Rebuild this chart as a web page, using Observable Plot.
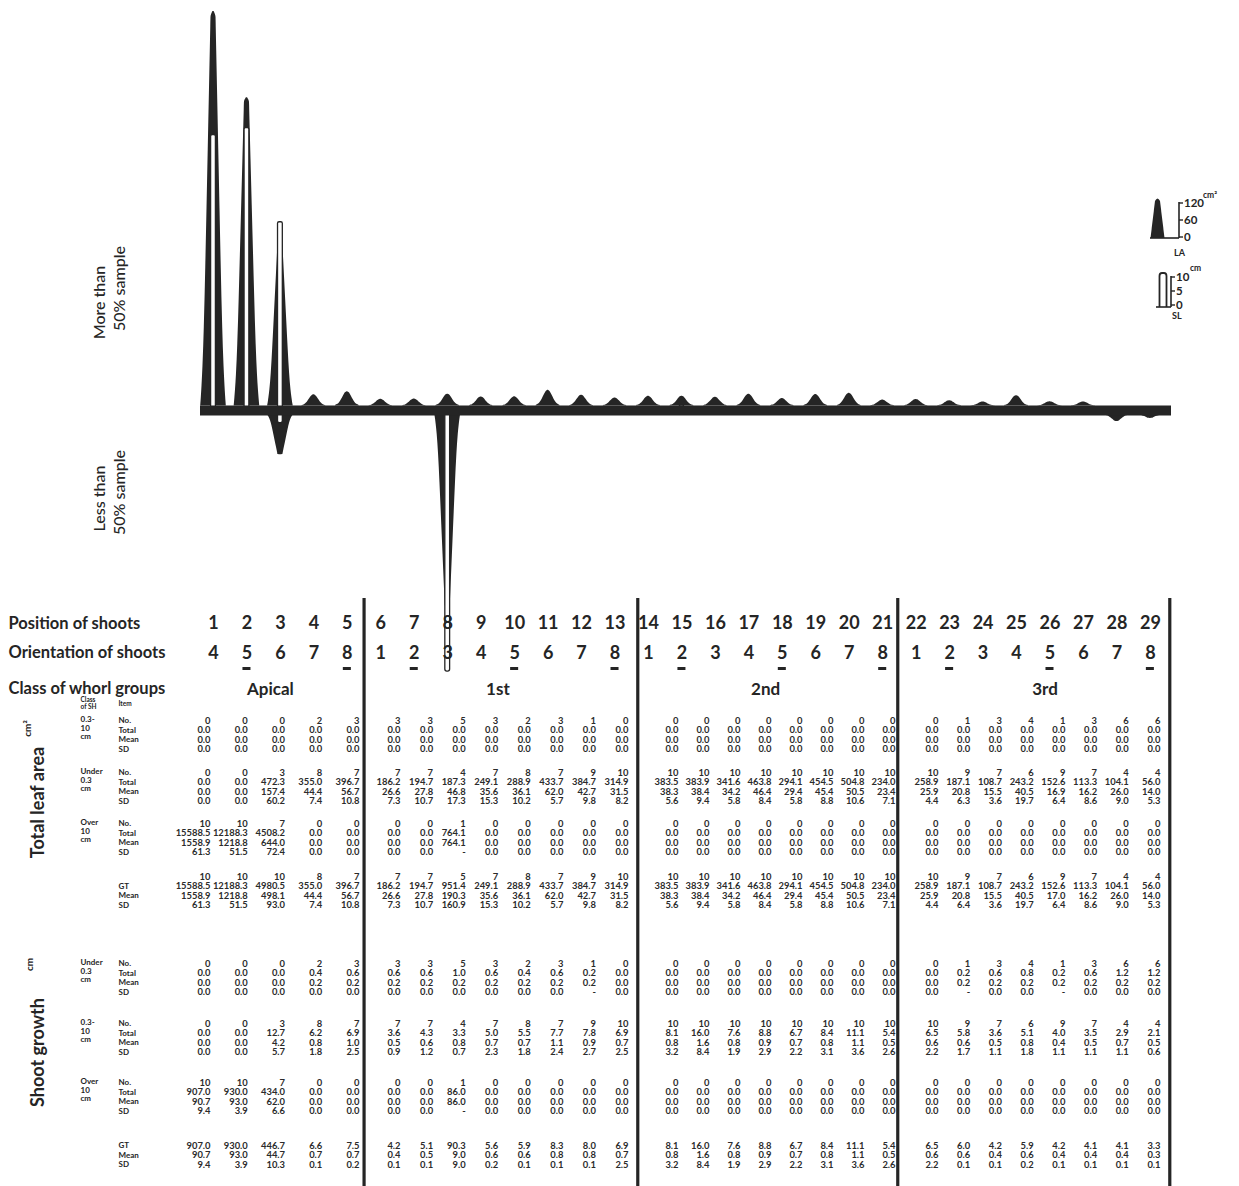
<!DOCTYPE html>
<html><head><meta charset="utf-8">
<script src="https://cdn.jsdelivr.net/npm/d3@7"></script>
<script src="https://cdn.jsdelivr.net/npm/@observablehq/plot@0.6"></script>
<style>
html,body{margin:0;padding:0;background:#fff;}
#wrap{position:relative;width:1239px;height:1186px;overflow:hidden;background:#fff;}
#wrap > svg{position:absolute;left:0;top:0;background:transparent;}
</style></head><body><div id="wrap"></div>
<script>
// ---------------- DATA ----------------
const positions   = [1,2,3,4,5,6,7,8,9,10,11,12,13,14,15,16,17,18,19,20,21,22,23,24,25,26,27,28,29];
const orientation = [4,5,6,7,8, 1,2,3,4,5,6,7,8, 1,2,3,4,5,6,7,8, 1,2,3,4,5,6,7,8];
const underlined  = [2,5,7,10,13,15,18,21,23,26,29];
const groupNames  = ["Apical","1st","2nd","3rd"];
const groupFirst  = [1,6,14,22];
const groupLast   = [5,13,21,29];

// spike chart: more than 50% sample (upward) and less than 50% sample (downward)
const upPos  = [1,2,3,4,5,6,7,8,9,10,11,12,13,14,15,16,17,18,19,20,21,22,23,24,25,26,27];
const upLA   = [1558.9,1218.8,644.0,44.4,56.7,26.6,27.8,46.8,35.6,36.1,62.0,42.7,31.5,38.3,38.4,34.2,46.4,29.4,45.4,50.5,23.4,25.9,20.8,15.5,40.5,16.9,16.2];
const upSL   = [90.7,93.0,62.0,0.8,1.0,0.5,0.6,0.8,0.7,0.7,1.1,0.9,0.7,0.8,1.6,0.8,0.9,0.7,0.8,1.1,0.5,0.6,0.6,0.5,0.8,0.4,0.5];
const downPos = [3,8,28,29];
const downLA  = [157.4,764.1,26.0,14.0];
const downSL  = [4.2,86.0,0.7,0.5];

// Total leaf area table
const la03_no    = [0,0,0,2,3, 3,3,5,3,2,3,1,0, 0,0,0,0,0,0,0,0, 0,1,3,4,1,3,6,6];
const la03_total = [0,0,0,0,0, 0,0,0,0,0,0,0,0, 0,0,0,0,0,0,0,0, 0,0,0,0,0,0,0,0];
const la03_mean  = [0,0,0,0,0, 0,0,0,0,0,0,0,0, 0,0,0,0,0,0,0,0, 0,0,0,0,0,0,0,0];
const la03_sd    = [0,0,0,0,0, 0,0,0,0,0,0,0,0, 0,0,0,0,0,0,0,0, 0,0,0,0,0,0,0,0];
const laU_no    = [0,0,3,8,7, 7,7,4,7,8,7,9,10, 10,10,10,10,10,10,10,10, 10,9,7,6,9,7,4,4];
const laU_total = [0,0,472.3,355.0,396.7, 186.2,194.7,187.3,249.1,288.9,433.7,384.7,314.9, 383.5,383.9,341.6,463.8,294.1,454.5,504.8,234.0, 258.9,187.1,108.7,243.2,152.6,113.3,104.1,56.0];
const laU_mean  = [0,0,157.4,44.4,56.7, 26.6,27.8,46.8,35.6,36.1,62.0,42.7,31.5, 38.3,38.4,34.2,46.4,29.4,45.4,50.5,23.4, 25.9,20.8,15.5,40.5,16.9,16.2,26.0,14.0];
const laU_sd    = [0,0,60.2,7.4,10.8, 7.3,10.7,17.3,15.3,10.2,5.7,9.8,8.2, 5.6,9.4,5.8,8.4,5.8,8.8,10.6,7.1, 4.4,6.3,3.6,19.7,6.4,8.6,9.0,5.3];
const laO_no    = [10,10,7,0,0, 0,0,1,0,0,0,0,0, 0,0,0,0,0,0,0,0, 0,0,0,0,0,0,0,0];
const laO_total = [15588.5,12188.3,4508.2,0,0, 0,0,764.1,0,0,0,0,0, 0,0,0,0,0,0,0,0, 0,0,0,0,0,0,0,0];
const laO_mean  = [1558.9,1218.8,644.0,0,0, 0,0,764.1,0,0,0,0,0, 0,0,0,0,0,0,0,0, 0,0,0,0,0,0,0,0];
const laO_sd    = [61.3,51.5,72.4,0,0, 0,0,null,0,0,0,0,0, 0,0,0,0,0,0,0,0, 0,0,0,0,0,0,0,0];
const laGT_no    = [10,10,10,8,7, 7,7,5,7,8,7,9,10, 10,10,10,10,10,10,10,10, 10,9,7,6,9,7,4,4];
const laGT_total = [15588.5,12188.3,4980.5,355.0,396.7, 186.2,194.7,951.4,249.1,288.9,433.7,384.7,314.9, 383.5,383.9,341.6,463.8,294.1,454.5,504.8,234.0, 258.9,187.1,108.7,243.2,152.6,113.3,104.1,56.0];
const laGT_mean  = [1558.9,1218.8,498.1,44.4,56.7, 26.6,27.8,190.3,35.6,36.1,62.0,42.7,31.5, 38.3,38.4,34.2,46.4,29.4,45.4,50.5,23.4, 25.9,20.8,15.5,40.5,17.0,16.2,26.0,14.0];
const laGT_sd    = [61.3,51.5,93.0,7.4,10.8, 7.3,10.7,160.9,15.3,10.2,5.7,9.8,8.2, 5.6,9.4,5.8,8.4,5.8,8.8,10.6,7.1, 4.4,6.4,3.6,19.7,6.4,8.6,9.0,5.3];

// Shoot growth table
const sgU_no    = [0,0,0,2,3, 3,3,5,3,2,3,1,0, 0,0,0,0,0,0,0,0, 0,1,3,4,1,3,6,6];
const sgU_total = [0,0,0,0.4,0.6, 0.6,0.6,1.0,0.6,0.4,0.6,0.2,0, 0,0,0,0,0,0,0,0, 0,0.2,0.6,0.8,0.2,0.6,1.2,1.2];
const sgU_mean  = [0,0,0,0.2,0.2, 0.2,0.2,0.2,0.2,0.2,0.2,0.2,0, 0,0,0,0,0,0,0,0, 0,0.2,0.2,0.2,0.2,0.2,0.2,0.2];
const sgU_sd    = [0,0,0,0,0, 0,0,0,0,0,0,null,0, 0,0,0,0,0,0,0,0, 0,null,0,0,null,0,0,0];
const sg03_no    = [0,0,3,8,7, 7,7,4,7,8,7,9,10, 10,10,10,10,10,10,10,10, 10,9,7,6,9,7,4,4];
const sg03_total = [0,0,12.7,6.2,6.9, 3.6,4.3,3.3,5.0,5.5,7.7,7.8,6.9, 8.1,16.0,7.6,8.8,6.7,8.4,11.1,5.4, 6.5,5.8,3.6,5.1,4.0,3.5,2.9,2.1];
const sg03_mean  = [0,0,4.2,0.8,1.0, 0.5,0.6,0.8,0.7,0.7,1.1,0.9,0.7, 0.8,1.6,0.8,0.9,0.7,0.8,1.1,0.5, 0.6,0.6,0.5,0.8,0.4,0.5,0.7,0.5];
const sg03_sd    = [0,0,5.7,1.8,2.5, 0.9,1.2,0.7,2.3,1.8,2.4,2.7,2.5, 3.2,8.4,1.9,2.9,2.2,3.1,3.6,2.6, 2.2,1.7,1.1,1.8,1.1,1.1,1.1,0.6];
const sgO_no    = [10,10,7,0,0, 0,0,1,0,0,0,0,0, 0,0,0,0,0,0,0,0, 0,0,0,0,0,0,0,0];
const sgO_total = [907.0,930.0,434.0,0,0, 0,0,86.0,0,0,0,0,0, 0,0,0,0,0,0,0,0, 0,0,0,0,0,0,0,0];
const sgO_mean  = [90.7,93.0,62.0,0,0, 0,0,86.0,0,0,0,0,0, 0,0,0,0,0,0,0,0, 0,0,0,0,0,0,0,0];
const sgO_sd    = [9.4,3.9,6.6,0,0, 0,0,null,0,0,0,0,0, 0,0,0,0,0,0,0,0, 0,0,0,0,0,0,0,0];
const sgGT_total = [907.0,930.0,446.7,6.6,7.5, 4.2,5.1,90.3,5.6,5.9,8.3,8.0,6.9, 8.1,16.0,7.6,8.8,6.7,8.4,11.1,5.4, 6.5,6.0,4.2,5.9,4.2,4.1,4.1,3.3];
const sgGT_mean  = [90.7,93.0,44.7,0.7,0.7, 0.4,0.5,9.0,0.6,0.6,0.8,0.8,0.7, 0.8,1.6,0.8,0.9,0.7,0.8,1.1,0.5, 0.6,0.6,0.4,0.6,0.4,0.4,0.4,0.3];
const sgGT_sd    = [9.4,3.9,10.3,0.1,0.2, 0.1,0.1,9.0,0.2,0.1,0.1,0.1,2.5, 3.2,8.4,1.9,2.9,2.2,3.1,3.6,2.6, 2.2,0.1,0.1,0.2,0.1,0.1,0.1,0.1];

// ---------------- LAYOUT ----------------
const W = 1239, H = 1186;
const INK = "#252525";
const FONT = "Lato, 'Open Sans', sans-serif";
const P1 = 213, STEP = 33.46;              // pixel of position 1, pixels per position
const toPos = px => 1 + (px - P1) / STEP;  // layout helper
const xDom = [toPos(0), toPos(W)];

// ===== Spike chart =====
const H1 = 700, BASE = 410, K = 0.253;     // px per cm2 ; 1 cm SL == 12 cm2 (legend)
const toLA = py => (BASE - py) / K;
const SLF = 12;

function spikeRows(pos, la, dir, id) {
  const hpx = la * K, rows = [];
  if (hpx > 25) {
    const fs = [0,0.01,0.025,0.05,0.1,0.2,0.35,0.5,0.65,0.8,0.9,0.96,0.985,1];
    for (const f of fs) {
      let hw = 2.4 + 8.2 * (1 - f) + 2.2 * Math.pow(1 - f, 10);
      if (f === 1) hw = 0.6;
      rows.push({id, y: dir * f * la, x1: pos - hw / STEP, x2: pos + hw / STEP});
    }
  } else {
    const fs = [0,0.04,0.12,0.25,0.45,0.65,0.82,0.94,1];
    const s = 4.6;
    for (const f of fs) {
      const hw = f >= 1 ? 0.3 : Math.min(12, s * Math.sqrt(-2 * Math.log(Math.max(f, 0.012))));
      rows.push({id, y: dir * f * la, x1: pos - hw / STEP, x2: pos + hw / STEP});
    }
  }
  return rows;
}
const upRows = upPos.flatMap((p, i) => spikeRows(p, upLA[i], 1, "u" + p));
const downRows = downPos.flatMap((p, i) => spikeRows(p, downLA[i], -1, "d" + p));
const slHalf = 2.4 / STEP;
const slUp = upPos.map((p, i) => ({x1: p - slHalf, x2: p + slHalf, y1: 0, y2: upSL[i] * SLF}));
const slDown = downPos.map((p, i) => ({x1: p - slHalf, x2: p + slHalf, y1: 0, y2: -downSL[i] * SLF}));

const sideLabels = [
  {t: "More than", px: 99, py: 302}, {t: "50% sample", px: 119, py: 288},
  {t: "Less than", px: 99, py: 498}, {t: "50% sample", px: 119, py: 492}
];

const spike = Plot.plot({
  width: W, height: H1, margin: 0,
  x: {domain: xDom, range: [0, W], axis: null},
  y: {domain: [toLA(H1), toLA(0)], range: [H1, 0], axis: null},
  marks: [
    Plot.areaX(upRows, {y: "y", x1: "x1", x2: "x2", z: "id", fill: INK, curve: "monotone-y", dy: -4.5}),
    Plot.areaX(downRows, {y: "y", x1: "x1", x2: "x2", z: "id", fill: INK, curve: "monotone-y", dy: 4.5}),
    Plot.rect(slUp, {x1: "x1", x2: "x2", y1: "y1", y2: "y2", fill: "#fff", stroke: INK, strokeWidth: 1.3, rx: 1.5}),
    Plot.rect(slDown, {x1: "x1", x2: "x2", y1: "y1", y2: "y2", fill: "#fff", stroke: INK, strokeWidth: 1.3, rx: 2}),
    Plot.ruleY([0], {x1: toPos(200), x2: toPos(1171), stroke: INK, strokeWidth: 10}),
    Plot.text(sideLabels, {x: d => toPos(d.px), y: d => toLA(d.py), text: "t", rotate: -90,
      fontSize: 16, fontFamily: FONT, fontWeight: 500, fill: INK, textAnchor: "middle", letterSpacing: "1.4px"})
  ]
});

// ===== Table =====
const colGroups = [
  {from: 1, to: 5, r0: 210, r1: 359},
  {from: 6, to: 13, r0: 400, r1: 628},
  {from: 14, to: 21, r0: 678, r1: 895},
  {from: 22, to: 29, r0: 938, r1: 1160}
];
function colRight(c) {
  const g = colGroups.find(g => c >= g.from && c <= g.to);
  return toPos(g.r0 + (c - g.from) * (g.r1 - g.r0) / (g.to - g.from));
}
const fmt = (v, count) => v === null ? "-" : (count ? String(v) : v.toFixed(1));
const RS = 9.6;
const blocks = [
  {cls: ["0.3-", "10", "cm"], items: ["No.", "Total", "Mean", "SD"], rows: [la03_no, la03_total, la03_mean, la03_sd], y0: 720},
  {cls: ["Under", "0.3", "cm"], items: ["No.", "Total", "Mean", "SD"], rows: [laU_no, laU_total, laU_mean, laU_sd], y0: 772},
  {cls: ["Over", "10", "cm"], items: ["No.", "Total", "Mean", "SD"], rows: [laO_no, laO_total, laO_mean, laO_sd], y0: 823},
  {cls: [], items: ["", "GT", "Mean", "SD"], rows: [laGT_no, laGT_total, laGT_mean, laGT_sd], y0: 876},
  {cls: ["Under", "0.3", "cm"], items: ["No.", "Total", "Mean", "SD"], rows: [sgU_no, sgU_total, sgU_mean, sgU_sd], y0: 963},
  {cls: ["0.3-", "10", "cm"], items: ["No.", "Total", "Mean", "SD"], rows: [sg03_no, sg03_total, sg03_mean, sg03_sd], y0: 1023},
  {cls: ["Over", "10", "cm"], items: ["No.", "Total", "Mean", "SD"], rows: [sgO_no, sgO_total, sgO_mean, sgO_sd], y0: 1082},
  {cls: [], items: ["GT", "Mean", "SD"], rows: [sgGT_total, sgGT_mean, sgGT_sd], y0: 1145, noCount: true}
];
const cells = [], itemLabels = [], classLabels = [];
blocks.forEach(b => {
  b.rows.forEach((arr, r) => {
    const isCount = !b.noCount && r === 0;
    arr.forEach((v, c) => cells.push({x: colRight(c + 1), y: b.y0 + r * RS, t: fmt(v, isCount)}));
    if (b.items[r]) itemLabels.push({x: toPos(118), y: b.y0 + r * RS, t: b.items[r]});
  });
  b.cls.forEach((t, i) => classLabels.push({x: toPos(80), y: b.y0 - 1 + i * 8.5, t}));
});
const headLabels = [
  {x: toPos(80), y: 699.5, t: "Class"}, {x: toPos(80), y: 706.5, t: "of SH"},
  {x: toPos(118), y: 703, t: "Item"}
];

const rowHeads = [
  {t: "Position of shoots", py: 623},
  {t: "Orientation of shoots", py: 652},
  {t: "Class of whorl groups", py: 688}
];
const groupShift = [-0.3, 0, 0, 0.35];
const groupLabels = groupNames.map((g, i) => ({t: g, x: (groupFirst[i] + groupLast[i]) / 2 + groupShift[i]}));
const dividers = [5.5, 13.68, 21.45, 29.58];
const sectionTitles = [
  {t: "Total leaf area", px: 38, py: 802, fs: 18},
  {t: "cm²", px: 27, py: 728, fs: 10},
  {t: "Shoot growth", px: 38, py: 1052, fs: 18},
  {t: "cm", px: 29, py: 964, fs: 10}
];

const table = Plot.plot({
  width: W, height: H, margin: 0,
  x: {domain: xDom, range: [0, W], axis: null},
  y: {domain: [0, H], range: [0, H], axis: null},
  marks: [
    Plot.ruleX(dividers, {y1: 598, y2: H, stroke: INK, strokeWidth: 3.2}),
    Plot.text(rowHeads, {x: toPos(8), y: "py", text: "t", textAnchor: "start", fontSize: 16.5, fontWeight: 700, fontFamily: FONT, fill: INK}),
    Plot.text(positions, {x: d => d, y: 623, text: d => String(d), fontSize: 18, fontWeight: 700, fontFamily: FONT, fill: INK}),
    Plot.text(orientation, {x: (d, i) => positions[i], y: 653, text: d => String(d), fontSize: 18, fontWeight: 700, fontFamily: FONT, fill: INK}),
    Plot.ruleY(underlined, {y: 668, x1: d => d - 0.12, x2: d => d + 0.12, stroke: INK, strokeWidth: 3}),
    Plot.text(groupLabels, {x: "x", y: 689, text: "t", fontSize: 17, fontWeight: 700, fontFamily: FONT, fill: INK}),
    Plot.text(sectionTitles, {x: d => toPos(d.px), y: "py", text: "t", fontSize: d => d.fs, rotate: -90, fontWeight: 700, fontFamily: FONT, fill: INK, letterSpacing: "0.8px"}),
    Plot.text(headLabels, {x: "x", y: "y", text: "t", textAnchor: "start", fontSize: 6.5, fontWeight: 700, fontFamily: FONT, fill: INK}),
    Plot.text(classLabels, {x: "x", y: "y", text: "t", textAnchor: "start", fontSize: 8, fontWeight: 700, fontFamily: FONT, fill: INK}),
    Plot.text(itemLabels, {x: "x", y: "y", text: "t", textAnchor: "start", fontSize: 8, fontWeight: 700, fontFamily: FONT, fill: INK}),
    Plot.text(cells, {x: "x", y: "y", text: "t", textAnchor: "end", fontSize: 9.4, fontWeight: 700, fontFamily: FONT, fill: "#2b2b2b"})
  ]
});

const wrap = document.getElementById("wrap");
wrap.appendChild(spike);
wrap.appendChild(table);

// ===== Legend (LA and SL scales) =====
const lg = d3.create("svg").attr("width", W).attr("height", 340).style("position", "absolute").style("left", 0).style("top", 0);
const g = lg.append("g").attr("fill", INK).attr("font-family", FONT).attr("font-weight", 700);
g.append("path").attr("d", "M1150.5,238 L1155,201 Q1157.5,196 1160,201 L1164.5,238 Z");
g.append("line").attr("x1", 1179).attr("x2", 1179).attr("y1", 202).attr("y2", 238).attr("stroke", INK).attr("stroke-width", 1.6);
g.append("line").attr("x1", 1150).attr("x2", 1179).attr("y1", 238).attr("y2", 238).attr("stroke", INK).attr("stroke-width", 1.6);
[[203, "120"], [220, "60"], [237, "0"]].forEach(([y, t]) => {
  g.append("line").attr("x1", 1179).attr("x2", 1183).attr("y1", y).attr("y2", y).attr("stroke", INK).attr("stroke-width", 1.4);
  g.append("text").attr("x", 1184).attr("y", y + 4).attr("font-size", 11.5).text(t);
});
g.append("text").attr("x", 1203).attr("y", 198).attr("font-size", 8.5).text("cm²");
g.append("text").attr("x", 1174).attr("y", 256).attr("font-size", 9).text("LA");
g.append("path").attr("d", "M1159.5,307 L1159.5,276 Q1159.5,273 1162,273 L1164,273 Q1166.5,273 1166.5,276 L1166.5,307").attr("fill", "none").attr("stroke", INK).attr("stroke-width", 1.8);
g.append("line").attr("x1", 1156).attr("x2", 1171).attr("y1", 307).attr("y2", 307).attr("stroke", INK).attr("stroke-width", 1.6);
g.append("line").attr("x1", 1171).attr("x2", 1171).attr("y1", 276).attr("y2", 307).attr("stroke", INK).attr("stroke-width", 1.6);
[[277, "10"], [291, "5"], [305, "0"]].forEach(([y, t]) => {
  g.append("line").attr("x1", 1171).attr("x2", 1175).attr("y1", y).attr("y2", y).attr("stroke", INK).attr("stroke-width", 1.4);
  g.append("text").attr("x", 1176).attr("y", y + 4).attr("font-size", 11.5).text(t);
});
g.append("text").attr("x", 1190).attr("y", 271).attr("font-size", 8.5).text("cm");
g.append("text").attr("x", 1172).attr("y", 319).attr("font-size", 9).text("SL");
wrap.appendChild(lg.node());
</script></body></html>
